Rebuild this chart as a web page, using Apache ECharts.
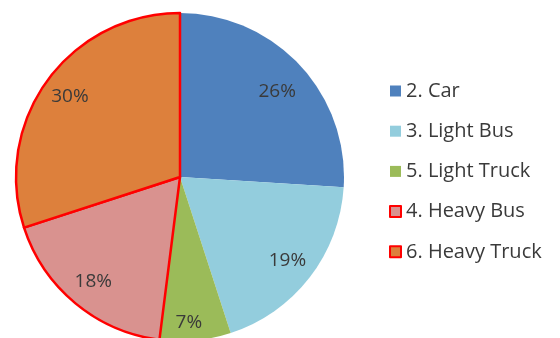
<!DOCTYPE html>
<html>
<head>
<meta charset="utf-8">
<script src="https://cdn.jsdelivr.net/npm/echarts@6/dist/echarts.min.js"></script>
<style>html,body{margin:0;padding:0;background:#fff}#c{width:560px;height:338px}</style>
</head>
<body>
<div id="c"></div>
<script>
const categories = ['2. Car', '3. Light Bus', '5. Light Truck', '4. Heavy Bus', '6. Heavy Truck'];
const shares = [26, 19, 7, 18, 30];
const sliceColors = ['#4F81BD', '#93CDDD', '#9BBB59', '#D9928F', '#DD803C'];
const outlined = [false, false, false, true, true];

const chart = echarts.init(document.getElementById('c'), null, {renderer: 'canvas'});
const mainData = categories.map((n, i) => ({
  name: n, value: shares[i],
  itemStyle: outlined[i]
    ? {color: sliceColors[i], borderColor: '#FF0000', borderWidth: 2.5}
    : {color: sliceColors[i], borderWidth: 0}
}));
const labelData = categories.map((n, i) => {
  const d = {name: n, value: shares[i]};
  if (i === 0) d.label = {offset: [-2, 8]};
  if (i === 2) d.label = {offset: [-4, 10]};
  return d;
});
chart.setOption({
  animation: false,
  backgroundColor: '#fff',
  legend: {
    orient: 'vertical', left: 384, top: 76,
    itemWidth: 11, itemHeight: 11, itemGap: 20.2,
    data: categories,
    icon: 'rect',
    textStyle: {fontFamily: 'Open Sans', fontSize: 20, color: '#3a3a3a', lineHeight: 20, padding: [0,0,0,0]}
  },
  series: [
    {
      type: 'pie', center: [180, 177], radius: [0, 164],
      startAngle: 90, clockwise: true,
      label: {show: false}, labelLine: {show: false},
      emphasis: {disabled: true}, silent: true,
      data: mainData
    },
    {
      type: 'pie', center: [180, 177], radius: [102, 164],
      startAngle: 90, clockwise: true,
      itemStyle: {color: 'rgba(0,0,0,0)', borderWidth: 0},
      label: {show: true, position: 'inside', formatter: '{d}%', fontFamily: 'Open Sans', fontSize: 19, color: '#3a3a3a'},
      labelLine: {show: false},
      emphasis: {disabled: true}, silent: true,
      legendHoverLink: false,
      data: labelData
    }
  ]
});
</script>
</body>
</html>
